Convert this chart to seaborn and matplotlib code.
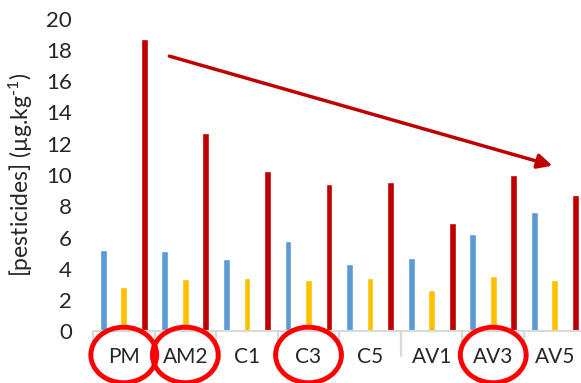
import numpy as np
import pandas as pd
import matplotlib
matplotlib.use("Agg")
import matplotlib.pyplot as plt
from matplotlib.patches import Ellipse
import seaborn as sns

# Sampling sites and pesticide concentrations (µg/kg) for three series
sites = ["PM", "AM2", "C1", "C3", "C5", "AV1", "AV3", "AV5"]
series_names = ["Série 1", "Série 2", "Série 3"]
serie_1 = [5.2, 5.15, 4.65, 5.8, 4.3, 4.7, 6.2, 7.65]
serie_2 = [2.85, 3.35, 3.45, 3.3, 3.45, 2.65, 3.55, 3.3]
serie_3 = [18.7, 12.7, 10.25, 9.45, 9.55, 6.95, 10.0, 8.75]
colors = ["#5b9bd5", "#ffc000", "#c00000"]
y_ticks = [0, 2, 4, 6, 8, 10, 12, 14, 16, 18, 20]
highlighted = ["PM", "AM2", "C3", "AV3"]

df = pd.DataFrame({
    "site": sites * 3,
    "serie": [s for s in series_names for _ in sites],
    "value": serie_1 + serie_2 + serie_3,
})

sns.set_style("white")
plt.rcParams["font.family"] = ["Lato", "DejaVu Sans"]
plt.rcParams["mathtext.default"] = "regular"

fig = plt.figure(figsize=(5.81, 3.83), dpi=100)
ax = fig.add_axes([0.160, 0.1345, 0.848, 0.817])

sns.barplot(data=df, x="site", y="value", hue="serie", order=sites,
            hue_order=series_names, palette=colors, width=1.0, gap=0.67,
            saturation=1, legend=False, ax=ax)

ax.set_xlim(-0.5, len(sites) - 0.5)
ax.set_ylim(0, 20)
ax.set_yticks(y_ticks)
ax.set_xlabel("")
ax.set_ylabel("[pesticides] (µg.kg$^{\\text{-}1}$)", fontsize=16.5, labelpad=8)

for side in ["top", "right", "left"]:
    ax.spines[side].set_visible(False)
ax.spines["bottom"].set_color("#d9d9d9")
ax.spines["bottom"].set_linewidth(1.5)

ax.tick_params(axis="y", length=0, pad=15, labelsize=16)
ax.tick_params(axis="x", which="major", bottom=False, length=0, pad=11,
               labelsize=15)
ax.set_xticks(np.arange(-0.5, len(sites), 1), minor=True)
ax.tick_params(axis="x", which="minor", bottom=True, length=19, width=1.6,
               color="#d9d9d9")

# Circles around the highlighted sites
for name in highlighted:
    i = sites.index(name)
    ell = Ellipse((i, -1.5), width=1.07, height=3.55, fill=False,
                  edgecolor="#ff0000", linewidth=3.5, clip_on=False, zorder=5)
    ax.add_patch(ell)

# Decreasing trend arrow
ax.annotate("", xy=(6.96, 10.6), xytext=(0.74, 17.6),
            arrowprops=dict(arrowstyle="-|>", color="#c00000", lw=2.5,
                            mutation_scale=22, shrinkA=0, shrinkB=0),
            annotation_clip=False)

fig.savefig("out.png", dpi=100)
